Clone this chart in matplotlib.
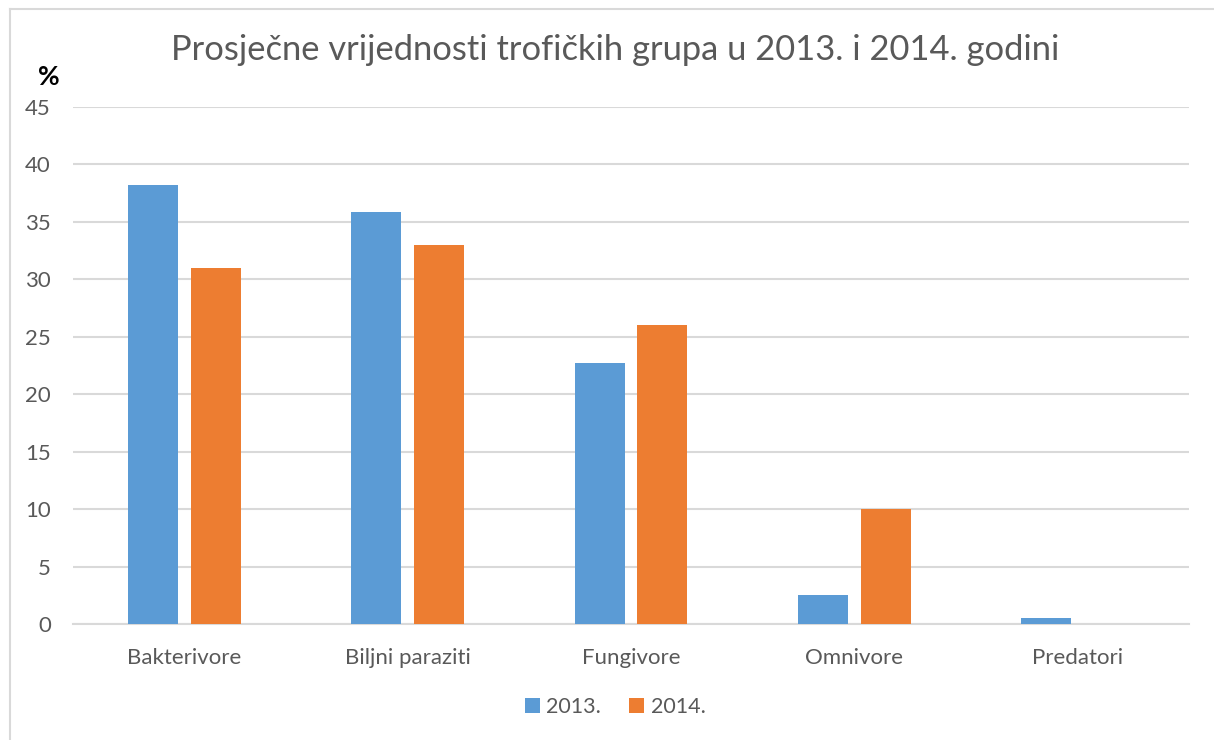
import matplotlib.pyplot as plt
import numpy as np
from matplotlib.lines import Line2D

# Data
categories = ['Bakterivore', 'Biljni paraziti', 'Fungivore', 'Omnivore', 'Predatori']
series_names = ['2013.', '2014.']
values_2013 = [38.2, 35.9, 22.7, 2.5, 0.5]
values_2014 = [31.0, 33.0, 26.0, 10.0, 0.0]
yticks = [0, 5, 10, 15, 20, 25, 30, 35, 40, 45]

colors = ['#5b9bd5', '#ed7d31']
text_gray = '#595959'
grid_gray = '#d9d9d9'

plt.rcParams['font.family'] = ['Lato', 'DejaVu Sans']

fig = plt.figure(figsize=(12.14, 7.40), dpi=100)
ax = fig.add_axes([73/1214, 1-624/740, (1189-73)/1214, (624-107)/740])

# outer chart frame (only left and top edges fall inside the picture)
fx, fy = 9.5/1214, 1-8.5/740
fig.lines.append(Line2D([fx, fx], [0, fy], transform=fig.transFigure, color=grid_gray, linewidth=1.5))
fig.lines.append(Line2D([fx, 1], [fy, fy], transform=fig.transFigure, color=grid_gray, linewidth=1.5))

x = np.arange(len(categories))
width = 0.224
offset = 0.141
ax.bar(x - offset, values_2013, width, color=colors[0], label=series_names[0], zorder=3)
ax.bar(x + offset, values_2014, width, color=colors[1], label=series_names[1], zorder=3)

ax.set_xlim(-0.5, len(categories) - 0.5)
ax.set_ylim(0, 45)
ax.set_yticks(yticks)
ax.yaxis.grid(True, color=grid_gray, linewidth=1.5, zorder=0)
ax.set_axisbelow(True)
for s in ['top', 'right', 'left']:
    ax.spines[s].set_visible(False)
ax.spines['bottom'].set_color(grid_gray)
ax.spines['bottom'].set_linewidth(1.5)
ax.tick_params(axis='both', length=0, labelsize=16, colors=text_gray)
ax.tick_params(axis='x', pad=17)
ax.tick_params(axis='y', pad=16)
ax.set_xticks(x)
ax.set_xticklabels(categories)

fig.text(615/1214, 1-50/740, 'Prosječne vrijednosti trofičkih grupa u 2013. i 2014. godini',
         ha='center', va='center', fontsize=24.8, color=text_gray)
fig.text(49/1214, 1-77/740, '%', ha='center', va='center', fontsize=19,
         fontweight='bold', color='black')

leg = fig.legend(loc='center', bbox_to_anchor=(615/1214, 1-707/740), ncol=2, frameon=False,
                 fontsize=15.5, handlelength=0.7, handleheight=0.7, handletextpad=0.3,
                 columnspacing=1.3)
for t in leg.get_texts():
    t.set_color(text_gray)

fig.savefig('out.png', dpi=100)
